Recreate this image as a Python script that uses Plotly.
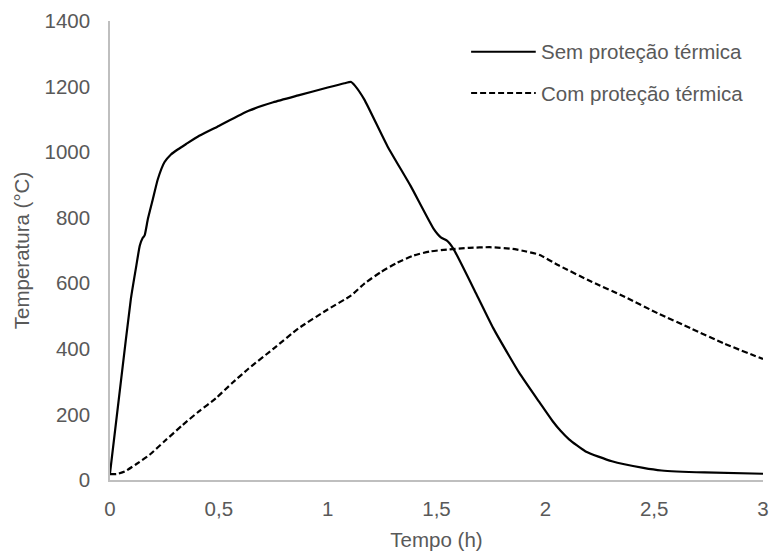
import plotly.graph_objects as go

# Time (h) and temperature (°C) for the unprotected element
tempo_sem = [0, 0.05, 0.096, 0.121, 0.137, 0.15, 0.159, 0.174, 0.197, 0.22,
             0.25, 0.28, 0.311, 0.35, 0.41, 0.5, 0.637, 0.75, 0.865, 1.0,
             1.077, 1.108, 1.125, 1.168, 1.274, 1.381, 1.487, 1.52, 1.548,
             1.578, 1.684, 1.76, 1.836, 1.881, 1.972, 2.033,
             2.07, 2.109, 2.185, 2.306, 2.45, 2.534, 2.731, 3.0]
temp_sem = [20, 300, 553, 654, 715, 738, 746, 796, 857, 918,
            969, 993, 1008, 1025, 1050, 1080, 1126, 1152, 1173, 1197,
            1210, 1214, 1203, 1161, 1019, 897, 766, 740, 730,
            705, 566, 464, 376, 326, 238, 180,
            150, 124, 87, 57, 37, 29, 23, 19]

# Time (h) and temperature (°C) for the thermally protected element
tempo_com = [0, 0.03, 0.068, 0.12, 0.182, 0.25, 0.334, 0.41, 0.486, 0.56,
             0.637, 0.75, 0.865, 1.0, 1.108, 1.17, 1.244, 1.32, 1.396, 1.47,
             1.548, 1.65, 1.745, 1.85, 1.912, 1.972, 2.063, 2.215, 2.367,
             2.518, 2.67, 2.822, 3.0]
temp_com = [18, 18, 26, 48, 77, 118, 168, 210, 249, 295,
            340, 400, 462, 520, 563, 600, 634, 663, 685, 697,
            703, 708, 710, 705, 697, 687, 654, 604, 558,
            508, 462, 416, 369]

x_ticks = [0, 0.5, 1, 1.5, 2, 2.5, 3]
x_tick_labels = ["0", "0,5", "1", "1,5", "2", "2,5", "3"]
y_ticks = [0, 200, 400, 600, 800, 1000, 1200, 1400]
y_tick_labels = ["0", "200", "400", "600", "800", "1000", "1200", "1400"]

serie_nomes = ["Sem proteção térmica", "Com proteção térmica"]

TEXT = "#595959"
AXIS = "#bfbfbf"
FONT = "Liberation Sans, Arial, sans-serif"
DASH = "6px,3px"

fig = go.Figure()
fig.add_trace(go.Scatter(x=tempo_sem, y=temp_sem, mode="lines",
                         name=serie_nomes[0], showlegend=False,
                         line=dict(color="black", width=2.2,
                                   shape="spline", smoothing=0.5)))
fig.add_trace(go.Scatter(x=tempo_com, y=temp_com, mode="lines",
                         name=serie_nomes[1], showlegend=False,
                         line=dict(color="black", width=2.2, dash=DASH,
                                   shape="spline", smoothing=0.5)))

# Legend drawn as line samples plus labels in the upper right
legend_rows = [(0.933, None), (0.843, DASH)]
for (yp, dash), nome in zip(legend_rows, serie_nomes):
    fig.add_shape(type="line", xref="paper", yref="paper",
                  x0=0.553, x1=0.652, y0=yp, y1=yp,
                  line=dict(color="black", width=2, dash=dash))
    fig.add_annotation(xref="paper", yref="paper", x=0.657, y=yp,
                       xanchor="left", yanchor="middle", showarrow=False,
                       text=nome, font=dict(size=20.5, color=TEXT, family=FONT))

fig.update_layout(
    width=776, height=555,
    margin=dict(l=110, r=7, t=21, b=73),
    plot_bgcolor="white", paper_bgcolor="white",
    font=dict(family=FONT, color=TEXT, size=20),
    separators=", ",
    showlegend=False,
)
fig.update_xaxes(
    range=[0, 3], tickvals=x_ticks, ticktext=x_tick_labels,
    showgrid=False, zeroline=False, showline=True, linecolor=AXIS,
    linewidth=1.5, ticks="", ticklabelstandoff=10,
    tickfont=dict(size=20.5, color=TEXT),
    title=dict(text="Tempo (h)", font=dict(size=20.5, color=TEXT), standoff=13),
)
fig.update_yaxes(
    range=[0, 1400], tickvals=y_ticks, ticktext=y_tick_labels,
    showgrid=False, zeroline=False, showline=True, linecolor=AXIS,
    linewidth=1.5, ticks="", ticklabelstandoff=14,
    tickfont=dict(size=20.5, color=TEXT),
    title=dict(text="Temperatura (°C)", font=dict(size=20.5, color=TEXT), standoff=9),
)

fig.write_html("out.html")
